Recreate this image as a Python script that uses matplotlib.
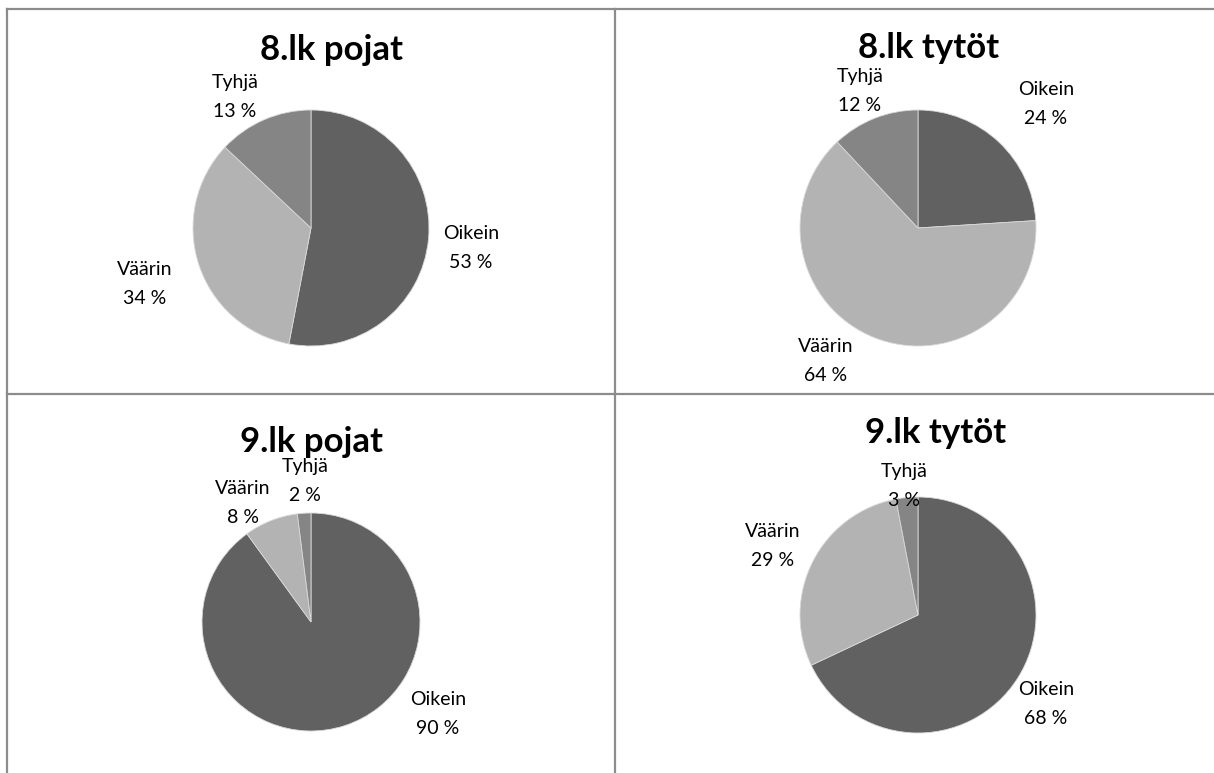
import matplotlib
matplotlib.use("Agg")
import matplotlib.pyplot as plt
from matplotlib.lines import Line2D

plt.rcParams['font.family'] = ['Lato', 'DejaVu Sans']

W, H = 1214, 773

# data
categories = ["Oikein", "Väärin", "Tyhjä"]
titles = ["8.lk pojat", "8.lk tytöt", "9.lk pojat", "9.lk tytöt"]
values_8_pojat = [53, 34, 13]
values_8_tytot = [24, 64, 12]
values_9_pojat = [90, 8, 2]
values_9_tytot = [68, 29, 3]
all_values = [values_8_pojat, values_8_tytot, values_9_pojat, values_9_tytot]
slice_colors = ['#616161', '#b3b3b3', '#858585']

# layout in pixels (x, y from top)
pie_centers = [(311, 228), (918, 228), (311, 622), (918, 615)]
pie_radii = [118, 118, 109, 118]
title_pos = [(332, 50), (929, 48), (312, 442), (936, 433)]
label_pos = [
    [(471, 248), (145, 284), (235, 97)],
    [(1046, 104), (826, 361), (860, 91)],
    [(438, 714), (243, 503), (305, 481)],
    [(1046, 704), (773, 546), (904, 486)],
]

fig = plt.figure(figsize=(W / 100, H / 100), dpi=100)

def fx(x):
    return x / W

def fy(y):
    return 1 - y / H

# table lines
line_kw = dict(color='#8c8c8c', linewidth=1.6, transform=fig.transFigure)
fig.add_artist(Line2D([fx(7), 1], [fy(9), fy(9)], **line_kw))
fig.add_artist(Line2D([fx(7), 1], [fy(394), fy(394)], **line_kw))
fig.add_artist(Line2D([fx(7), fx(7)], [fy(9), 0], **line_kw))
fig.add_artist(Line2D([fx(615), fx(615)], [fy(9), 0], **line_kw))

for i in range(4):
    cx, cy = pie_centers[i]
    r = pie_radii[i]
    ax = fig.add_axes([fx(cx - r), fy(cy + r), 2 * r / W, 2 * r / H])
    ax.pie(all_values[i], colors=slice_colors, startangle=90, counterclock=False,
           radius=1, wedgeprops=dict(edgecolor='#d9d9d9', linewidth=0.6))
    ax.set_xlim(-1, 1)
    ax.set_ylim(-1, 1)
    ax.axis('off')

    tx, ty = title_pos[i]
    fig.text(fx(tx), fy(ty), titles[i], fontsize=25, fontweight='bold',
             ha='center', va='center')
    for j in range(3):
        lx, ly = label_pos[i][j]
        fig.text(fx(lx), fy(ly), f"{categories[j]}\n{all_values[i][j]} %",
                 fontsize=14, ha='center', va='center', linespacing=1.85)

fig.savefig("out.png", dpi=100)
